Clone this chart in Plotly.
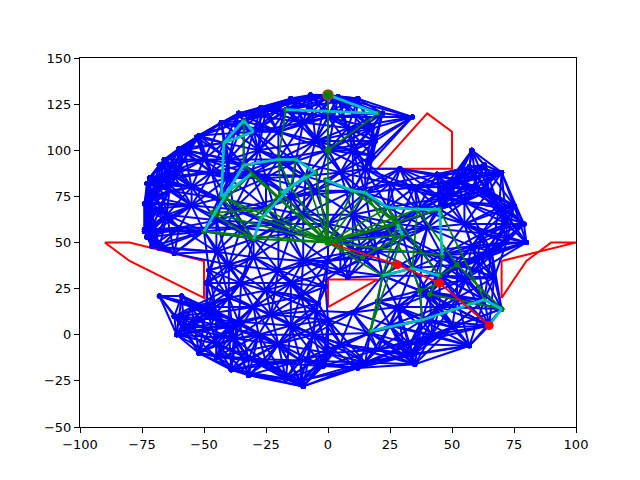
import numpy as np
import plotly.graph_objects as go

# obstacles (polygon outlines)
obs1_x = [-90, -80, -50, -50, -80, -90]
obs1_y = [50, 50, 40, 20, 40, 50]
obs2_x = [0, 0, 20, 0]
obs2_y = [15, 30, 30, 15]
obs3_x = [20, 40, 50, 50, 20]
obs3_y = [90, 120, 110, 90, 90]
obs4_x = [70, 100, 90, 80, 70, 70]
obs4_y = [40, 50, 50, 40, 20, 40]
obstacles = [(obs1_x, obs1_y), (obs2_x, obs2_y), (obs3_x, obs3_y), (obs4_x, obs4_y)]

# roadmap samples
node_x = [-7, 0, 4, 12, -15, -17, -25, -27, -34, -30, -36, -43, -42, -53, -52, -58, -60, -66, -68, -68,
          -66, -62, -72, -73, -71, -72, -74, -73, -74, -74, -73, -71, -68, -62, -50, -47, -34, -31, -20, -13,
          0, -9, -25, -44, -30,
          22, 34, 18, 19, 18, 29, 44, 58, 57, 63, 70, 47, 51, 46, 69, 79, 80, 72, 52,
          36, 45, 24, 10, 15, 28, 30, 14, 46, 52, 22, 34, 45, 37, 41, 67, 63, 70, 65, 57,
          35, 34, 31, 12, -2, 33, 17, 38, 50, 8, -1,
          -68, -59, -61, -62, -58, -52, -40, -38, -39, -32, -32, -17, -11, -10, -11, -49, -49, -45, -36, -23,
          -4, -5, -25, -11, -48, -6,
          -20, -10, 0, 8, -5, 10, -28, -50, -40,
          -60, -55, -64, -40, -25, -15, -5, 5, 15, 25, 35, 60, 55, 65, 75,
          -65, -60, -55, -45, -38, -35, -20, -10, 0, 10, 18, 40, 55, 62, 72, 58, 66, -15, 5,
          -45, -40, -30, -20, -10, 0, 10, 20, 38, 55, 60, -35, -15, 5,
          -55, -40, -30, -15, 0, 10, 20, 28, 45, 52, 25, -20, -28, 5, -45, 20, 42,
          -25, 0, -45, 15]
node_y = [130, 130, 129, 128, 128, 122, 122, 123, 116, 110, 120, 115, 104, 107, 108, 100, 101, 95, 92, 83,
          84, 86, 85, 82, 75, 72, 71, 68, 57, 56, 53, 48, 47, 44, 56, 88, 92, 87, 95, 94,
          100, 86, 69, 74, 52,
          120, 118, 112, 105, 97, 90, 87, 100, 91, 92, 88, 80, 84, 74, 69, 60, 50, 50, 83,
          68, 68, 69, 78, 77, 60, 54, 42, 43, 38, 32, 36, 32, 24, 22, 31, 19, 14, 5, -6,
          -16, -11, -11, -18, -17, -5, 1, 8, 4, 31, 26,
          21, 21, 0, 10, 4, -10, 4, -2, -19, -22, -13, -24, -25, -28, -14, 28, 15, 12, 7, 11,
          17, 13, 24, 21, 35, 0,
          110, 115, 118, 112, 105, 100, 100, 95, 95,
          90, 80, 78, 85, 85, 75, 78, 88, 90, 82, 80, 80, 72, 78, 70,
          65, 58, 70, 62, 68, 58, 60, 65, 60, 65, 55, 58, 60, 55, 60, 48, 45, 55, 52,
          45, 38, 42, 35, 40, 40, 45, 45, 45, 30, 40, 28, 28, 35,
          15, 20, 15, 5, 8, 12, 18, 15, 15, 20, 5, -5, 0, -5, -5, -8, 0,
          -15, -10, -12, -15]

# search tree nodes
tree_x = [0, 0, 0, 20, -17, -34, -30, -42, -34, -31, -20, -13, -5, -43, -47, -50, -30, -25, -27, -19,
          -15, -9, -1, 10, 15, 24, 36, 45, 28, 30, 14, 46, 52, 22, 34, 45, 37, 41, 17, 38,
          63, 70, 28, 45, 65]
tree_y = [50, 130, 100, 120, 122, 116, 110, 104, 92, 87, 95, 95, 88, 75, 66, 56, 52, 68, 63, 77,
          80, 86, 84, 78, 77, 69, 68, 68, 60, 54, 42, 43, 38, 32, 36, 32, 24, 22, 2, 8,
          19, 14, 38, 28, 5]
green_edges = [(0, 2), (0, 13), (0, 14), (0, 15), (0, 16), (0, 17), (0, 18), (0, 19), (0, 20), (0, 22),
               (0, 23), (0, 24), (0, 25), (0, 26), (0, 27), (0, 28), (0, 29), (0, 30), (0, 31), (0, 33),
               (0, 12), (0, 21), (0, 9), (0, 8),
               (1, 2), (2, 3), (7, 13), (5, 8), (4, 10), (8, 15), (9, 14), (10, 19), (11, 20), (12, 21),
               (13, 16), (14, 16), (15, 16), (17, 19), (18, 20), (13, 18), (14, 17), (10, 20),
               (24, 28), (25, 29), (26, 32), (27, 31), (26, 34), (28, 33), (29, 30), (31, 35), (32, 35),
               (33, 38), (34, 36), (35, 37), (36, 39), (37, 41), (40, 41), (42, 33), (43, 36), (29, 38),
               (32, 41), (27, 40), (23, 28), (24, 34), (25, 35)]
cyan_edges = [(7, 5), (5, 6), (6, 7), (4, 3), (1, 3), (8, 10), (10, 11), (11, 12), (8, 15), (13, 9),
              (16, 18), (18, 20), (19, 12), (22, 23), (23, 24), (24, 25), (25, 26), (26, 27), (28, 29),
              (27, 31), (38, 39), (39, 40), (40, 41), (41, 44), (33, 34), (34, 35), (20, 21), (7, 13)]

# final path
path_x = [0, 28, 45, 65]
path_y = [50, 38, 28, 5]
goal = (0, 130)


def cross(o, a, b):
    return (a[0] - o[0]) * (b[1] - o[1]) - (a[1] - o[1]) * (b[0] - o[0])


def seg_hit(p1, p2, q1, q2):
    d1 = cross(q1, q2, p1)
    d2 = cross(q1, q2, p2)
    d3 = cross(p1, p2, q1)
    d4 = cross(p1, p2, q2)
    return (d1 * d2 < 0) and (d3 * d4 < 0)


def blocked(p1, p2):
    for ox, oy in obstacles:
        for i in range(len(ox) - 1):
            if seg_hit(p1, p2, (ox[i], oy[i]), (ox[i + 1], oy[i + 1])):
                return True
    return False


pts = np.array([node_x, node_y], dtype=float).T
K = 14
edge_set = set()
for i in range(len(pts)):
    d = np.hypot(pts[:, 0] - pts[i, 0], pts[:, 1] - pts[i, 1])
    for j in np.argsort(d)[1:K + 1]:
        a, b = min(i, j), max(i, j)
        if (a, b) in edge_set or d[j] == 0:
            continue
        if not blocked(tuple(pts[a]), tuple(pts[b])):
            edge_set.add((a, b))

ex, ey = [], []
for a, b in sorted(edge_set):
    ex += [pts[a, 0], pts[b, 0], None]
    ey += [pts[a, 1], pts[b, 1], None]


def seg_xy(edges):
    xs, ys = [], []
    for a, b in edges:
        xs += [tree_x[a], tree_x[b], None]
        ys += [tree_y[a], tree_y[b], None]
    return xs, ys


fig = go.Figure()

for ox, oy in obstacles:
    fig.add_trace(go.Scatter(x=ox, y=oy, mode='lines', line=dict(color='#ff0000', width=2)))

fig.add_trace(go.Scatter(x=ex, y=ey, mode='lines+markers', line=dict(color='#0000ff', width=2),
                         marker=dict(color='#0000ff', size=5)))

gx, gy = seg_xy(green_edges)
fig.add_trace(go.Scatter(x=gx, y=gy, mode='lines+markers', line=dict(color='#008000', width=1.8),
                         marker=dict(color='#008000', size=5)))
cx, cy = seg_xy(cyan_edges)
fig.add_trace(go.Scatter(x=cx, y=cy, mode='lines', line=dict(color='#00bfbf', width=2.8)))

fig.add_trace(go.Scatter(x=path_x, y=path_y, mode='lines', line=dict(color='#ff0000', width=1.8)))
fig.add_trace(go.Scatter(x=path_x[1:], y=path_y[1:], mode='markers', marker=dict(color='#ff0000', size=9)))
fig.add_trace(go.Scatter(x=[goal[0]], y=[goal[1]], mode='markers',
                         marker=dict(color='#008000', size=10, line=dict(color='#a05000', width=1.5))))
fig.add_trace(go.Scatter(x=[0, 0], y=[100, 50], mode='markers', marker=dict(color='#008000', size=7)))

axis = dict(showgrid=False, zeroline=False, showline=True, linecolor='black', linewidth=1,
            mirror=True, ticks='outside', ticklen=5, tickcolor='black',
            tickfont=dict(family='DejaVu Sans', size=13, color='black'))
fig.update_layout(
    width=640, height=480, showlegend=False,
    margin=dict(l=72, r=72, t=50, b=61),
    plot_bgcolor='white', paper_bgcolor='white',
    xaxis=dict(range=[-100, 100], dtick=25, **axis),
    yaxis=dict(range=[-50, 150], dtick=25, **axis),
)

fig.write_html("out.html")
